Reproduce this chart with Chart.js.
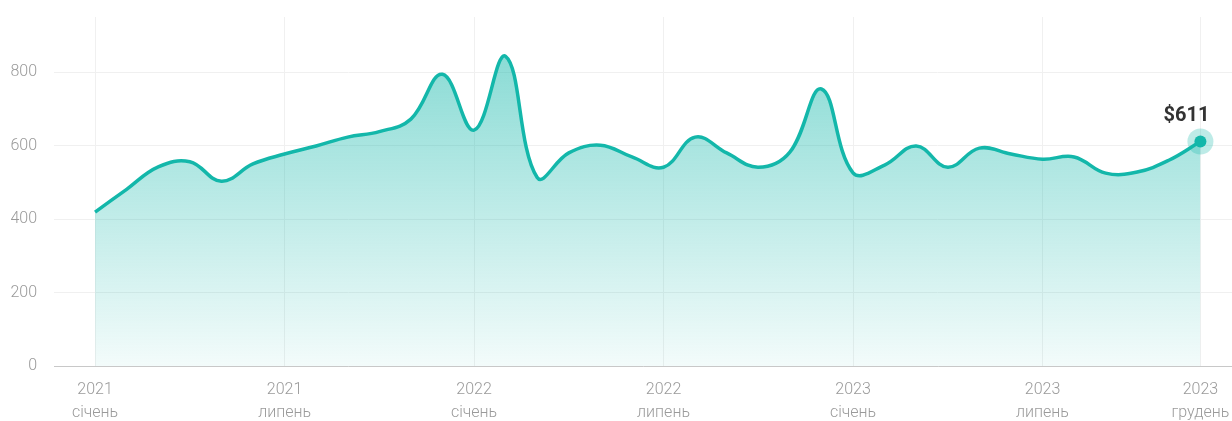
<!DOCTYPE html>
<html lang="uk">
<head>
<meta charset="utf-8">
<title>Ціна</title>
<script src="https://cdn.jsdelivr.net/npm/chart.js@4.4.1/dist/chart.umd.min.js"></script>
<style>
    html, body { margin: 0; padding: 0; background: #fff; }
    #wrap { width: 1232px; height: 421px; position: relative; }
</style>
</head>
<body>
<div id="wrap"><canvas id="price-chart"></canvas></div>
<script>
// Місячні значення, січень 2021 – грудень 2023
const years = [2021, 2022, 2023];
const monthNames = ['січень', 'лютий', 'березень', 'квітень', 'травень', 'червень',
    'липень', 'серпень', 'вересень', 'жовтень', 'листопад', 'грудень'];
const prices = [
    419, 481, 542, 556, 503, 550, 577, 599, 623, 638, 672, 794,
    642, 843, 513, 580, 601, 569, 541, 623, 580, 541, 582, 754,
    526, 547, 599, 541, 593, 577, 563, 569, 525, 528, 560, 611
];
const tickMonths = [0, 6, 12, 18, 24, 30, 35];
const yTicks = [0, 200, 400, 600, 800];
const lastLabel = '$611';

const teal = 'rgb(19, 183, 170)';

function monthLabel(i) {
    return [String(years[Math.floor(i / 12)]), monthNames[i % 12]];
}

// Підпис та ореол для останньої точки
const lastPointPlugin = {
    id: 'lastPoint',
    afterDatasetsDraw(chart) {
        const meta = chart.getDatasetMeta(0);
        const pt = meta.data[meta.data.length - 1];
        const ctx = chart.ctx;
        ctx.save();
        ctx.beginPath();
        ctx.arc(pt.x, pt.y, 13, 0, Math.PI * 2);
        ctx.fillStyle = 'rgba(19, 183, 170, 0.28)';
        ctx.fill();
        ctx.beginPath();
        ctx.arc(pt.x, pt.y, 6, 0, Math.PI * 2);
        ctx.fillStyle = teal;
        ctx.fill();
        ctx.font = 'bold 20px Roboto';
        ctx.fillStyle = '#333';
        ctx.textAlign = 'center';
        ctx.textBaseline = 'alphabetic';
        ctx.fillText(lastLabel, pt.x - 14, pt.y - 21);
        ctx.restore();
    }
};

const ctx = document.getElementById('price-chart').getContext('2d');

new Chart(ctx, {
    type: 'line',
    data: {
        datasets: [{
            data: prices.map((v, i) => ({ x: i, y: v })),
            borderColor: teal,
            borderWidth: 3.5,
            tension: 0.4,
            pointRadius: 0,
            fill: 'origin',
            backgroundColor: function(context) {
                const area = context.chart.chartArea;
                if (!area) return 'rgba(19, 183, 170, 0.3)';
                const g = context.chart.ctx.createLinearGradient(0, area.top, 0, area.bottom);
                g.addColorStop(0, 'rgba(19, 183, 170, 0.55)');
                g.addColorStop(1, 'rgba(19, 183, 170, 0.05)');
                return g;
            }
        }]
    },
    options: {
        responsive: true,
        maintainAspectRatio: false,
        animation: false,
        layout: { padding: { top: 17, left: 0, right: 0, bottom: 0 } },
        plugins: {
            legend: { display: false },
            tooltip: { enabled: false }
        },
        scales: {
            x: {
                type: 'linear',
                min: -1.3,
                max: 36,
                afterBuildTicks: function(scale) {
                    scale.ticks = tickMonths.map(v => ({ value: v }));
                },
                afterFit: function(scale) {
                    scale.height = 55;
                    scale.paddingLeft = 0;
                    scale.paddingRight = 0;
                },
                grid: { color: '#f0f0f0', drawTicks: false },
                border: { display: true, color: '#c8c8c8', width: 1 },
                ticks: {
                    autoSkip: false,
                    maxRotation: 0,
                    padding: 13,
                    color: '#9a9a9a',
                    font: { family: 'Roboto', size: 16, weight: '300', lineHeight: 1.4 },
                    callback: function(value) { return monthLabel(value); }
                }
            },
            y: {
                min: 0,
                max: 950,
                afterBuildTicks: function(scale) {
                    scale.ticks = yTicks.map(v => ({ value: v }));
                },
                afterFit: function(scale) {
                    scale.width = 54;
                    scale.paddingTop = 0;
                    scale.paddingBottom = 0;
                },
                grid: { color: '#f0f0f0', drawTicks: false },
                border: { display: false },
                ticks: {
                    padding: 17,
                    color: '#9a9a9a',
                    font: { family: 'Roboto', size: 16, weight: '300' }
                }
            }
        }
    },
    plugins: [lastPointPlugin]
});
</script>
</body>
</html>
